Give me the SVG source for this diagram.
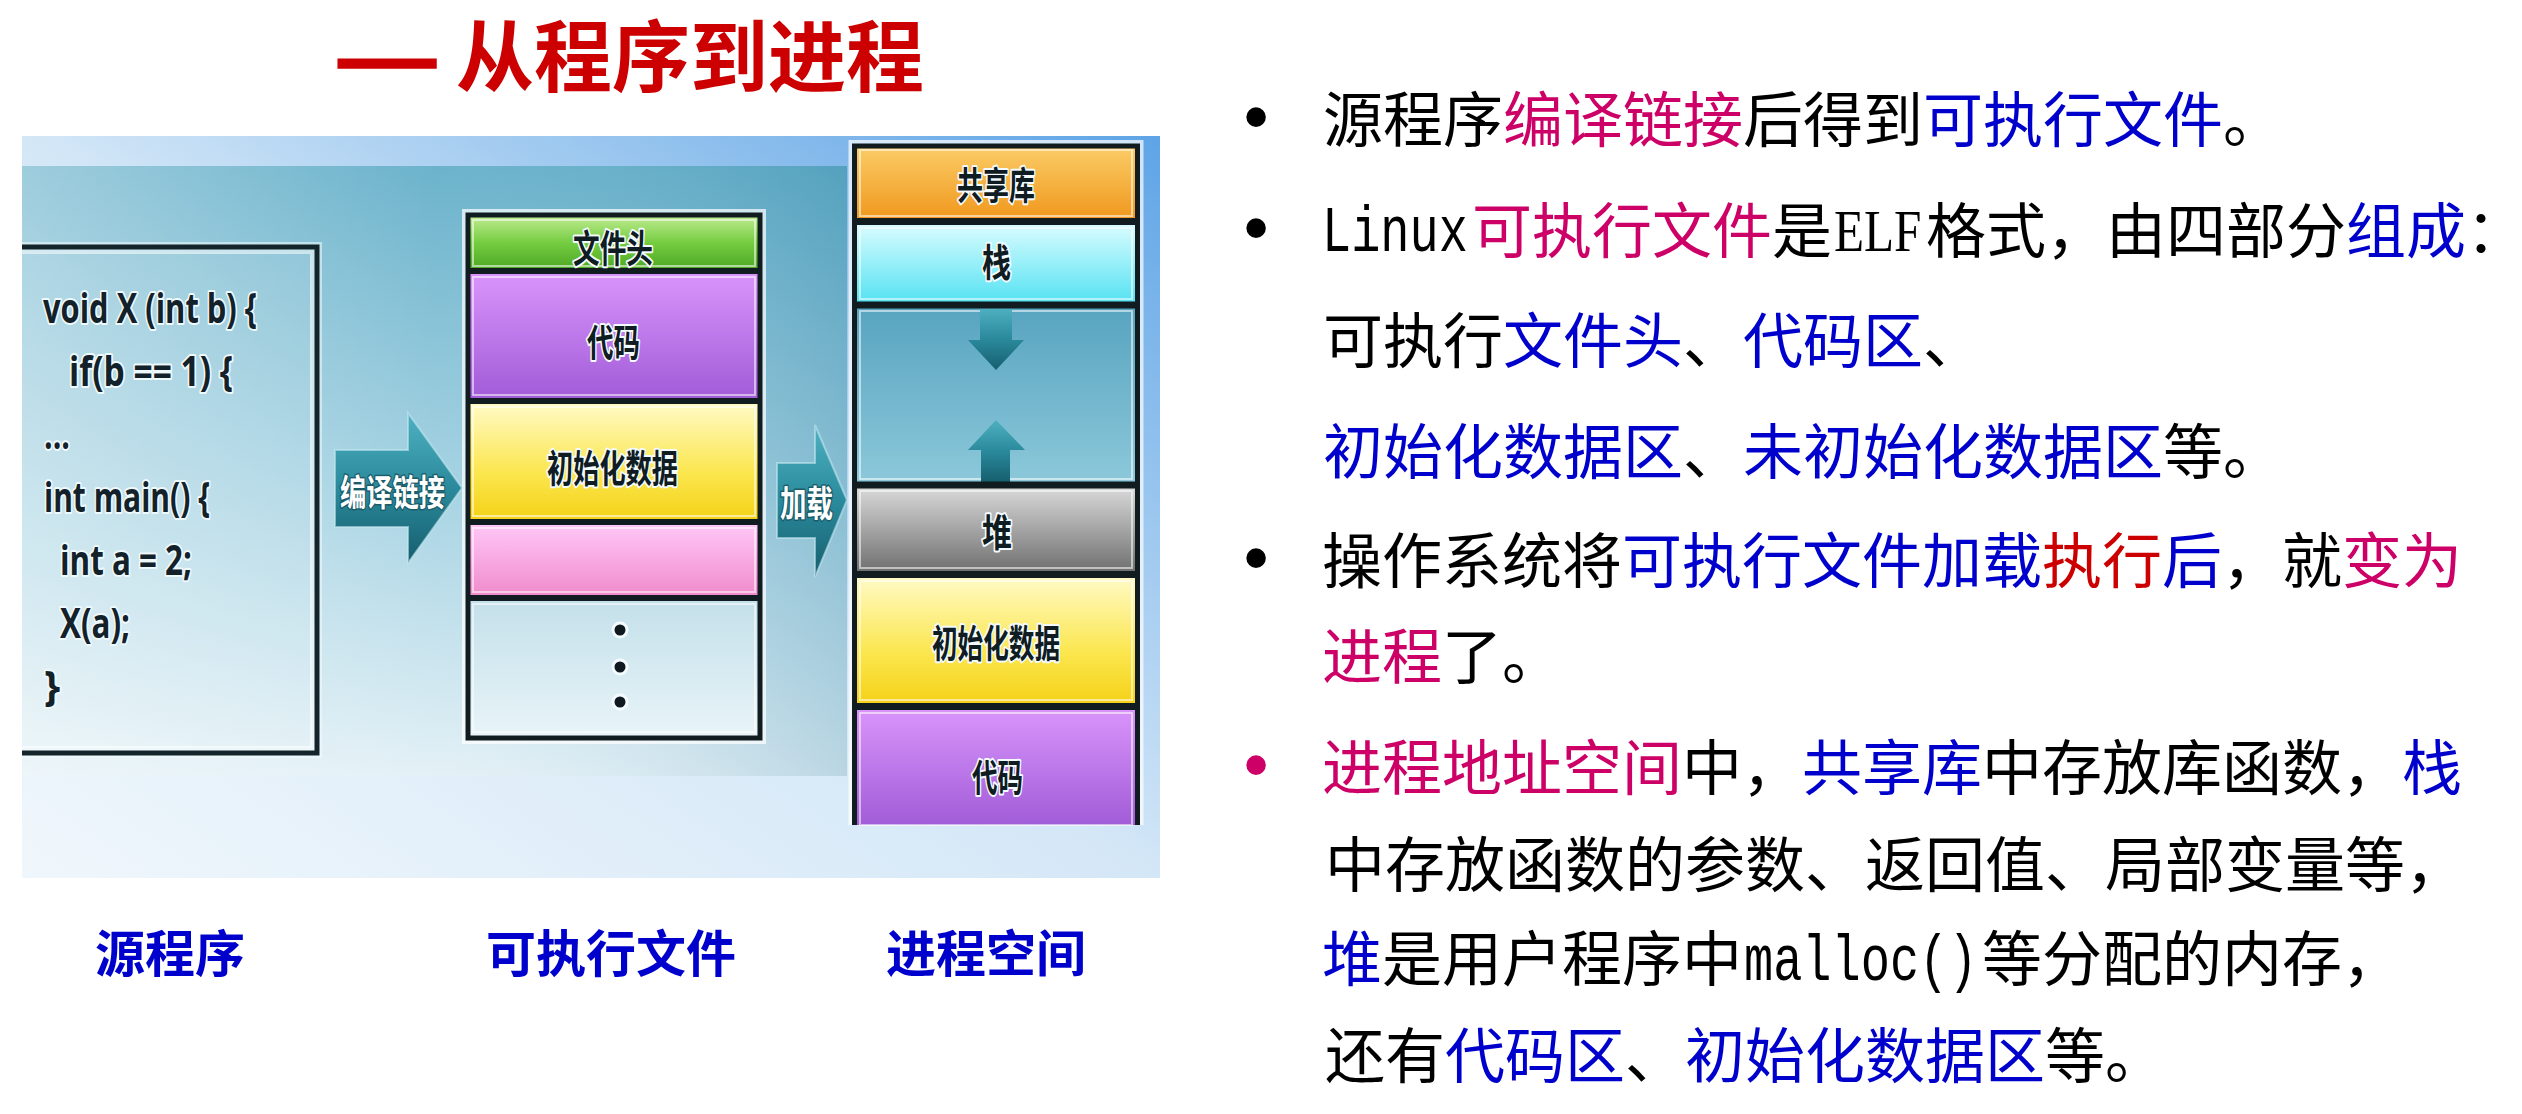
<svg xmlns="http://www.w3.org/2000/svg" width="2522" height="1114" viewBox="0 0 2522 1114">
  <style>
    .cjk { font-family: "Noto Sans CJK SC", "Noto Sans CJK TC", sans-serif; }
    .title { font-weight: 700; font-size: 78px; fill: #CC0000; }
    .cap { font-weight: 700; font-size: 50px; fill: #0000CC; }
    .body { font-size: 60px; fill: #000000; }
    .mono { font-family: "Liberation Mono", "DejaVu Sans Mono", monospace; font-size: 64px; fill: #000000; }
    .serif { font-family: "Liberation Serif", "DejaVu Serif", serif; font-size: 60px; fill: #000000; }
    .bullet { font-family: "Liberation Sans", "DejaVu Sans", sans-serif; font-size: 72px; text-anchor: middle; }
    .k { fill: #000000; }
    .m { fill: #CC0066; }
    .b { fill: #0000CC; }
    .r { fill: #CC0000; }
    .code { font-family: "Open Sans", "Liberation Sans", sans-serif; font-weight: 700; font-size: 41px; fill: #13222a;
            stroke: #eef9fc; stroke-width: 4; paint-order: stroke; stroke-linejoin: round; }
    .lbl { font-weight: 700; font-size: 38px; fill: #0f1c22; stroke: #f4fbff; stroke-width: 4;
           paint-order: stroke; stroke-linejoin: round; }
    .alb { font-weight: 700; font-size: 36px; fill: #ffffff; stroke: #1b5c69; stroke-width: 3;
           paint-order: stroke; stroke-linejoin: round; }
    .sep { stroke: #101c20; fill: none; }
    .hl { fill: none; stroke: #ffffff; stroke-opacity: 0.55; stroke-width: 2; }
    .glow { fill: none; stroke: #ffffff; stroke-opacity: 0.7; stroke-width: 12; }
    .dot { fill: #101820; stroke: #f4fbff; stroke-width: 3; }
  </style>
  <defs>
    <linearGradient id="gPanel" x1="0" y1="1" x2="1" y2="0">
      <stop offset="0" stop-color="#f0f7fc"/>
      <stop offset="0.5" stop-color="#d4e7f7"/>
      <stop offset="1" stop-color="#5ea4e6"/>
    </linearGradient>
    <linearGradient id="gInner" x1="0" y1="0" x2="0" y2="1">
      <stop offset="0" stop-color="#62aec8"/>
      <stop offset="0.55" stop-color="#a4d2e2"/>
      <stop offset="1" stop-color="#e2f0f6"/>
    </linearGradient>
    <linearGradient id="gInnerH" x1="0" y1="0" x2="1" y2="0">
      <stop offset="0" stop-color="#ffffff" stop-opacity="0.38"/>
      <stop offset="0.5" stop-color="#ffffff" stop-opacity="0.06"/>
      <stop offset="1" stop-color="#1e6e96" stop-opacity="0.2"/>
    </linearGradient>
    <linearGradient id="gGreen" x1="0" y1="0" x2="0" y2="1">
      <stop offset="0" stop-color="#bdeb8e"/>
      <stop offset="0.5" stop-color="#74cc40"/>
      <stop offset="1" stop-color="#4ea824"/>
    </linearGradient>
    <linearGradient id="gPurple" x1="0" y1="0" x2="0" y2="1">
      <stop offset="0" stop-color="#d994fb"/>
      <stop offset="1" stop-color="#a15cd8"/>
    </linearGradient>
    <linearGradient id="gYellow" x1="0" y1="0" x2="0" y2="1">
      <stop offset="0" stop-color="#fffac4"/>
      <stop offset="0.6" stop-color="#fbe64e"/>
      <stop offset="1" stop-color="#f5d218"/>
    </linearGradient>
    <linearGradient id="gPink" x1="0" y1="0" x2="0" y2="1">
      <stop offset="0" stop-color="#ffc6f6"/>
      <stop offset="1" stop-color="#f08ccc"/>
    </linearGradient>
    <linearGradient id="gLight" x1="0" y1="0" x2="0" y2="1">
      <stop offset="0" stop-color="#c4e0ea"/>
      <stop offset="1" stop-color="#e8f4f8"/>
    </linearGradient>
    <linearGradient id="gOrange" x1="0" y1="0" x2="0" y2="1">
      <stop offset="0" stop-color="#fbcc66"/>
      <stop offset="1" stop-color="#f0981e"/>
    </linearGradient>
    <linearGradient id="gCyan" x1="0" y1="0" x2="0" y2="1">
      <stop offset="0" stop-color="#d8fcff"/>
      <stop offset="1" stop-color="#56e2f2"/>
    </linearGradient>
    <linearGradient id="gGap" x1="0" y1="0" x2="0" y2="1">
      <stop offset="0" stop-color="#58a4c0"/>
      <stop offset="1" stop-color="#8cc8da"/>
    </linearGradient>
    <linearGradient id="gGray" x1="0" y1="0" x2="0" y2="1">
      <stop offset="0" stop-color="#d8d8d8"/>
      <stop offset="0.6" stop-color="#9a9a9a"/>
      <stop offset="1" stop-color="#707070"/>
    </linearGradient>
    <linearGradient id="gArrow" x1="0" y1="0" x2="0" y2="1">
      <stop offset="0" stop-color="#4eb0c0"/>
      <stop offset="0.5" stop-color="#2a8a9c"/>
      <stop offset="1" stop-color="#165e6e"/>
    </linearGradient>
  </defs>

  <!-- title -->
  <g id="title">
    <text class="cjk title" transform="translate(334 86) scale(1.5 1)" stroke="#CC0000" stroke-width="3">—</text>
    <text class="cjk title" x="456" y="86">从程序到进程</text>
  </g>

  <!-- picture panel background -->
  <g id="panel">
    <rect x="22" y="136" width="1138" height="742" fill="url(#gPanel)"/>
    <rect x="22" y="166" width="825" height="610" fill="url(#gInner)"/>
    <rect x="22" y="166" width="825" height="610" fill="url(#gInnerH)"/>
  </g>

  <!-- source program -->
  <g id="source-code">
    <path d="M22 247 H317 V753 H22" fill="#ffffff" fill-opacity="0.08" stroke="#f2fbfd" stroke-opacity="0.55" stroke-width="10"/>
    <path d="M22 247 H317 V753 H22" fill="none" stroke="#13252a" stroke-width="5"/>
    <path d="M22 253 H311 V747 H22" class="hl"/>
    <text class="code" x="43" y="323" textLength="214" lengthAdjust="spacingAndGlyphs">void X (int b) {</text>
    <text class="code" x="69" y="386" textLength="164" lengthAdjust="spacingAndGlyphs">if(b == 1) {</text>
    <text class="code" x="44" y="449" textLength="26" lengthAdjust="spacingAndGlyphs">...</text>
    <text class="code" x="44" y="512" textLength="166" lengthAdjust="spacingAndGlyphs">int main() {</text>
    <text class="code" x="60" y="575" textLength="132" lengthAdjust="spacingAndGlyphs">int a = 2;</text>
    <text class="code" x="60" y="638" textLength="70" lengthAdjust="spacingAndGlyphs">X(a);</text>
    <text class="code" x="44" y="701">}</text>
    <text class="cjk cap" x="95" y="972">源程序</text>
  </g>

  <!-- executable file layout -->
  <g id="executable-file">
    <rect x="468" y="215" width="292" height="523" class="glow"/>
    <rect x="470" y="217" width="288" height="52" fill="url(#gGreen)"/>
    <rect x="470" y="274" width="288" height="124" fill="url(#gPurple)"/>
    <rect x="470" y="404" width="288" height="115" fill="url(#gYellow)"/>
    <rect x="470" y="525" width="288" height="70" fill="url(#gPink)"/>
    <rect x="470" y="601" width="288" height="134" fill="url(#gLight)"/>
    <rect x="473" y="220" width="282" height="46" class="hl"/>
    <rect x="473" y="277" width="282" height="118" class="hl"/>
    <rect x="473" y="407" width="282" height="109" class="hl"/>
    <rect x="473" y="528" width="282" height="64" class="hl"/>
    <rect x="473" y="604" width="282" height="128" class="hl"/>
    <path class="sep" stroke-width="6" d="M468 271 H760 M468 401 H760 M468 522 H760 M468 598 H760"/>
    <rect x="468" y="215" width="292" height="523" class="sep" stroke-width="5"/>
    <text class="cjk lbl" x="573" y="262" textLength="80" lengthAdjust="spacingAndGlyphs">文件头</text>
    <text class="cjk lbl" x="587" y="356" textLength="53" lengthAdjust="spacingAndGlyphs">代码</text>
    <text class="cjk lbl" x="547" y="482" textLength="131" lengthAdjust="spacingAndGlyphs">初始化数据</text>
    <circle class="dot" cx="620" cy="630" r="7"/>
    <circle class="dot" cx="620" cy="667" r="7"/>
    <circle class="dot" cx="620" cy="702" r="7"/>
    <text class="cjk cap" x="486" y="972">可执行文件</text>
  </g>

  <!-- process address space -->
  <g id="process-space">
    <path d="M854.5 825 V146 H1137.5 V825" class="glow"/>
    <rect x="857" y="147" width="278" height="72" fill="url(#gOrange)"/>
    <rect x="857" y="225" width="278" height="77" fill="url(#gCyan)"/>
    <rect x="857" y="308" width="278" height="174" fill="url(#gGap)"/>
    <rect x="857" y="488" width="278" height="83" fill="url(#gGray)"/>
    <rect x="857" y="578" width="278" height="125" fill="url(#gYellow)"/>
    <rect x="857" y="710" width="278" height="115" fill="url(#gPurple)"/>
    <rect x="860" y="150" width="272" height="66" class="hl"/>
    <rect x="860" y="228" width="272" height="71" class="hl"/>
    <rect x="860" y="311" width="272" height="168" class="hl" stroke-opacity="0.25"/>
    <rect x="860" y="491" width="272" height="77" class="hl"/>
    <rect x="860" y="581" width="272" height="119" class="hl"/>
    <rect x="860" y="713" width="272" height="112" class="hl"/>
    <!-- stack grows down, heap grows up -->
    <path d="M980 308 H1012 V340 H1024 L996 370 L968 340 H980 Z" fill="url(#gArrow)"/>
    <path d="M996 420 L1025 450 H1010 V482 H981 V450 H968 Z" fill="url(#gArrow)"/>
    <path class="sep" stroke-width="7" d="M854 221.5 H1138 M854 305 H1138 M854 485 H1138 M854 574.5 H1138 M854 706.5 H1138"/>
    <path d="M854.5 825 V146 H1137.5 V825" class="sep" stroke-width="5"/>
    <text class="cjk lbl" x="957" y="199" textLength="78" lengthAdjust="spacingAndGlyphs">共享库</text>
    <text class="cjk lbl" x="982" y="276" textLength="29" lengthAdjust="spacingAndGlyphs">栈</text>
    <text class="cjk lbl" x="982" y="546" textLength="30" lengthAdjust="spacingAndGlyphs">堆</text>
    <text class="cjk lbl" x="932" y="657" textLength="128" lengthAdjust="spacingAndGlyphs">初始化数据</text>
    <text class="cjk lbl" x="972" y="791" textLength="51" lengthAdjust="spacingAndGlyphs">代码</text>
    <text class="cjk cap" x="886" y="972">进程空间</text>
  </g>

  <!-- transformation arrows -->
  <g id="connectors">
    <polygon points="335,450 408,450 408,413 462,488 408,563 408,527 335,527" fill="url(#gArrow)" stroke="#c4e8f0" stroke-opacity="0.6" stroke-width="2"/>
    <text class="cjk alb" x="340" y="506" textLength="105" lengthAdjust="spacingAndGlyphs">编译链接</text>
    <polygon points="777,463 815,463 815,425 847,500 815,577 815,538 777,538" fill="url(#gArrow)" stroke="#c4e8f0" stroke-opacity="0.6" stroke-width="2"/>
    <text class="cjk alb" x="780" y="517" textLength="53" lengthAdjust="spacingAndGlyphs">加载</text>
  </g>

  <!-- explanatory bullets -->
  <g id="notes">
    <text class="bullet k" x="1256" y="141">•</text>
    <text class="cjk body" x="1323" y="142"><tspan class="k">源程序</tspan><tspan class="m">编译链接</tspan><tspan class="k">后得到</tspan><tspan class="b">可执行文件</tspan><tspan class="k">。</tspan></text>

    <text class="bullet k" x="1256" y="252">•</text>
    <text class="mono" transform="translate(1322 251) scale(0.76 1)">Linux</text>
    <text class="cjk body" x="1472" y="253"><tspan class="m">可执行文件</tspan><tspan class="k">是</tspan></text>
    <text class="serif" transform="translate(1834 251) scale(0.82 1)">ELF</text>
    <text class="cjk body" x="1926" y="253"><tspan class="k">格式，由四部分</tspan><tspan class="b">组成</tspan><tspan class="k">：</tspan></text>

    <text class="cjk body" x="1323" y="363"><tspan class="k">可执行</tspan><tspan class="b">文件头</tspan><tspan class="k">、</tspan><tspan class="b">代码区</tspan><tspan class="k">、</tspan></text>
    <text class="cjk body" x="1323" y="474"><tspan class="b">初始化数据区</tspan><tspan class="k">、</tspan><tspan class="b">未初始化数据区</tspan><tspan class="k">等。</tspan></text>

    <text class="bullet k" x="1256" y="582">•</text>
    <text class="cjk body" x="1322" y="583"><tspan class="k">操作系统将</tspan><tspan class="b">可执行文件加载</tspan><tspan class="r">执行</tspan><tspan class="b">后</tspan><tspan class="k">，就</tspan><tspan class="m">变为</tspan></text>
    <text class="cjk body" x="1322" y="679"><tspan class="m">进程</tspan><tspan class="k">了。</tspan></text>

    <text class="bullet m" x="1256" y="789">•</text>
    <text class="cjk body" x="1322" y="790"><tspan class="m">进程地址空间</tspan><tspan class="k">中，</tspan><tspan class="b">共享库</tspan><tspan class="k">中存放库函数，</tspan><tspan class="b">栈</tspan></text>
    <text class="cjk body k" x="1325" y="887">中存放函数的参数、返回值、局部变量等，</text>
    <text class="cjk body" x="1322" y="981"><tspan class="b">堆</tspan><tspan class="k">是用户程序中</tspan></text>
    <text class="mono" transform="translate(1744 980) scale(0.76 1)">malloc()</text>
    <text class="cjk body k" x="1982" y="981">等分配的内存，</text>
    <text class="cjk body" x="1325" y="1078"><tspan class="k">还有</tspan><tspan class="b">代码区</tspan><tspan class="k">、</tspan><tspan class="b">初始化数据区</tspan><tspan class="k">等。</tspan></text>
  </g>
</svg>
